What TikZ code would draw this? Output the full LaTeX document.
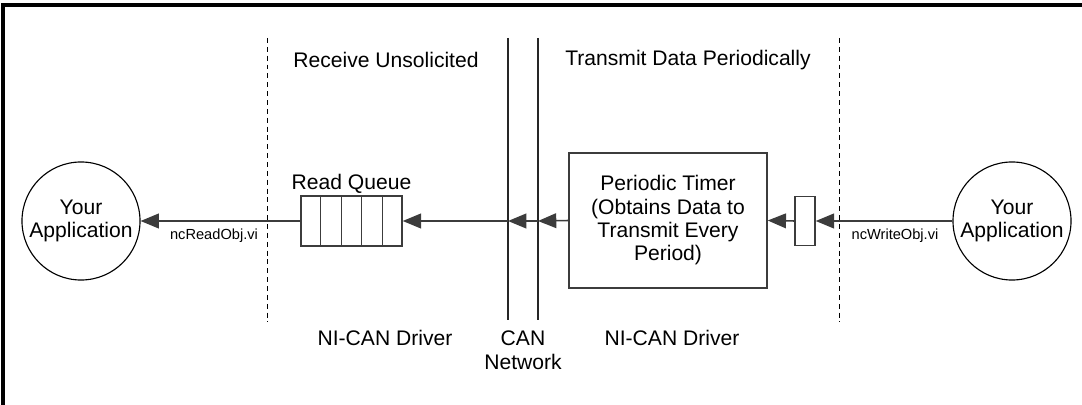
\documentclass[tikz,border=0pt]{standalone}
\usepackage{fontspec}
\setmainfont{Liberation Sans}
\usetikzlibrary{arrows.meta, positioning, calc}
\definecolor{linegray}{RGB}{60, 60, 60}

\begin{document}
\begin{tikzpicture}[x=0.025cm, y=-0.025cm,
  arr/.style={-{Triangle[length=13pt, width=10.5pt]}, linegray, line width=1.1pt},
  lbl/.style={font=\fontsize{15}{16.6}\selectfont, align=center},
  small/.style={font=\fontsize{10.4}{12}\selectfont},
  app/.style={circle, draw, line width=0.8pt, minimum size=2.95cm, inner sep=0pt, lbl},
  box/.style={rectangle, draw=linegray, line width=1pt, inner sep=0pt},
  bound/.style={line width=0.6pt, dash pattern=on 3.5pt off 2.8pt}]
  \useasboundingbox (0,0) rectangle (1082,405);

  % frame
  \draw[line width=2.2pt] (3,405) -- (3,5) -- (1082,5);

  % driver boundaries and CAN bus
  \draw[bound] (267,38) -- (267,322);
  \draw[bound] (839,38) -- (839,322);
  \draw[line width=1.8pt, black!85] (508,38) -- (508,320);
  \draw[line width=1.8pt, black!85] (538,38) -- (538,320);
  \coordinate (can1) at (508,221);
  \coordinate (can2) at (538,221);

  % titles
  \node[lbl] (recv) at (386,60) {Receive Unsolicited};
  \node[lbl] (xmit) at (688,60) {Transmit Data Periodically};
  \node[lbl] (drvL) at (385,338) {NI-CAN Driver};
  \node[lbl, anchor=north] (net) at (523,326) {CAN\\Network};
  \node[lbl] (drvR) at (672,338) {NI-CAN Driver};

  % blocks
  \node[app] (appL) at (81,221) {Your\\Application};
  \node[app] (appR) at (1012,221) {Your\\Application};
  \node[box, minimum width=2.525cm, minimum height=1.25cm] (queue) at (351.5,221) {};
  \foreach \i in {1,...,4}
    \draw[linegray, line width=1pt] ($(queue.north west)!\i/5!(queue.north east)$)
      -- ($(queue.south west)!\i/5!(queue.south east)$);
  \node[lbl, above=-2pt of queue] (qlbl) {Read Queue};
  \node[box, minimum width=4.95cm, minimum height=3.375cm, lbl] (timer) at (668,220.5)
    {Periodic Timer\\(Obtains Data to\\Transmit Every\\Period)};
  \node[box, minimum width=0.5cm, minimum height=1.225cm] (buf) at (805,221) {};

  % data flow
  \draw[arr] (appR.west) -- (buf.east);
  \draw[arr] (buf.west) -- (timer.east);
  \draw[arr] (timer.west) -- (can2);
  \draw[arr] (can2) -- (can1);
  \draw[arr] (can1) -- (queue.east);
  \draw[arr] (queue.west) -- (appL.east);

  \node[small] (rdvi) at (214,236) {ncReadObj.vi};
  \node[small] (wrvi) at (895,236) {ncWriteObj.vi};
\end{tikzpicture}
\end{document}
